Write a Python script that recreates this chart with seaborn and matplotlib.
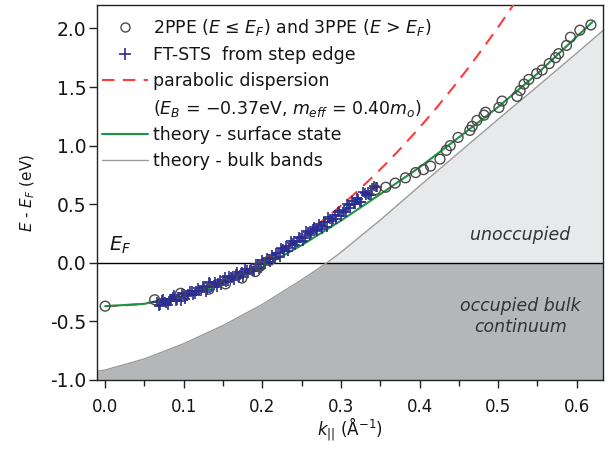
import numpy as np
import pandas as pd
import matplotlib
matplotlib.use("Agg")
import matplotlib.pyplot as plt
from matplotlib.lines import Line2D
import seaborn as sns

# ---------------- data ----------------
# 2PPE / 3PPE circles
ppe_k = [0.0, 0.063, 0.096, 0.132, 0.153, 0.174, 0.191, 0.197, 0.209,
         0.344, 0.357, 0.369, 0.382, 0.395, 0.405, 0.414, 0.426, 0.434, 0.439,
         0.449, 0.464, 0.467, 0.473, 0.482, 0.484, 0.501, 0.505, 0.524, 0.528,
         0.533, 0.539, 0.549, 0.556, 0.565, 0.573, 0.577, 0.587, 0.592, 0.604, 0.618]
ppe_E = [-0.37, -0.315, -0.26, -0.225, -0.18, -0.13, -0.075, -0.03, 0.02,
         0.625, 0.645, 0.68, 0.725, 0.77, 0.795, 0.825, 0.885, 0.96, 1.0,
         1.07, 1.13, 1.165, 1.215, 1.26, 1.285, 1.325, 1.38, 1.42, 1.47,
         1.525, 1.565, 1.615, 1.645, 1.70, 1.75, 1.785, 1.855, 1.925, 1.985, 2.03]

# FT-STS crosses
sts_k = [0.066, 0.070, 0.074, 0.078, 0.082, 0.086, 0.090, 0.094, 0.098, 0.102,
         0.106, 0.110, 0.114, 0.118, 0.122, 0.126, 0.130, 0.134, 0.138, 0.142,
         0.146, 0.150, 0.154, 0.158, 0.162, 0.166, 0.170, 0.174, 0.178, 0.182,
         0.186, 0.190, 0.194, 0.198, 0.202, 0.206, 0.210, 0.214, 0.218, 0.222,
         0.226, 0.230, 0.234, 0.238, 0.242, 0.246, 0.250, 0.254, 0.258, 0.262,
         0.266, 0.270, 0.274, 0.278, 0.282, 0.286, 0.290, 0.294, 0.298, 0.302,
         0.306, 0.310, 0.314, 0.318, 0.322, 0.326, 0.330, 0.334, 0.338, 0.342, 0.346,
         0.068, 0.072, 0.076, 0.080, 0.084, 0.088, 0.092, 0.096, 0.100, 0.104,
         0.108, 0.112, 0.116, 0.120, 0.124, 0.128, 0.132, 0.136, 0.140, 0.144,
         0.148, 0.152, 0.156, 0.160, 0.164, 0.168, 0.172, 0.176, 0.180, 0.184,
         0.188, 0.192, 0.196, 0.200, 0.204, 0.208, 0.212, 0.216, 0.220, 0.224,
         0.228, 0.232, 0.236, 0.240, 0.244, 0.248, 0.252, 0.256, 0.260, 0.264,
         0.268, 0.272, 0.276, 0.280, 0.284, 0.288, 0.292, 0.296, 0.300, 0.304,
         0.308, 0.312, 0.316, 0.320, 0.324, 0.328, 0.332, 0.336, 0.340, 0.344]
sts_E = [-0.335, -0.362, -0.310, -0.342, -0.324, -0.292, -0.329, -0.291, -0.259, -0.310,
         -0.269, -0.243, -0.268, -0.212, -0.241, -0.206, -0.230, -0.175, -0.190, -0.210,
         -0.150, -0.150, -0.164, -0.109, -0.133, -0.097, -0.132, -0.081, -0.050, -0.084,
         -0.057, -0.070, -0.013, -0.041, -0.001, 0.037, 0.005, 0.043, 0.081, 0.050,
         0.115, 0.145, 0.130, 0.165, 0.153, 0.224, 0.220, 0.211, 0.262, 0.253,
         0.309, 0.270, 0.316, 0.347, 0.309, 0.372, 0.375, 0.378, 0.441, 0.435,
         0.430, 0.490, 0.530, 0.500, 0.544, 0.521, 0.593, 0.590, 0.582, 0.659, 0.651,
         -0.371, -0.319, -0.331, -0.358, -0.306, -0.278, -0.315, -0.323, -0.270, -0.280,
         -0.239, -0.278, -0.238, -0.242, -0.201, -0.246, -0.165, -0.210, -0.165, -0.170,
         -0.190, -0.125, -0.154, -0.119, -0.143, -0.077, -0.102, -0.121, -0.060, -0.058,
         -0.071, -0.014, -0.057, 0.027, -0.007, 0.031, 0.064, 0.032, 0.081, 0.130,
         0.100, 0.105, 0.185, 0.189, 0.181, 0.212, 0.188, 0.274, 0.235, 0.291,
         0.282, 0.328, 0.289, 0.346, 0.393, 0.356, 0.404, 0.437, 0.401, 0.450,
         0.500, 0.465, 0.505, 0.550, 0.518, 0.605, 0.582, 0.579, 0.641, 0.643]

# parabolic dispersion (E_B = -0.37 eV, m_eff = 0.40 m_o)
para_k = [0.00, 0.02, 0.04, 0.06, 0.08, 0.10, 0.12, 0.14, 0.16, 0.18, 0.20, 0.22, 0.24, 0.26,
          0.28, 0.30, 0.32, 0.34, 0.36, 0.38, 0.40, 0.42, 0.44, 0.46, 0.48, 0.50, 0.52, 0.54]
para_E = [-0.370, -0.366, -0.355, -0.336, -0.309, -0.275, -0.233, -0.183, -0.126, -0.061,
          0.011, 0.091, 0.179, 0.274, 0.377, 0.487, 0.605, 0.731, 0.864, 1.005, 1.154,
          1.310, 1.474, 1.645, 1.825, 2.011, 2.206, 2.408]

# theory - surface state
ss_k = [0.00, 0.05, 0.10, 0.15, 0.20, 0.25, 0.30, 0.35, 0.40, 0.45, 0.50, 0.55, 0.60, 0.62]
ss_E = [-0.37, -0.35, -0.28, -0.18, -0.035, 0.15, 0.36, 0.585, 0.815, 1.07, 1.33, 1.615, 1.93, 2.055]

# theory - bulk bands (lower edge)
bulk_k = [-0.01, 0.00, 0.05, 0.10, 0.15, 0.20, 0.25, 0.282, 0.30, 0.35, 0.40, 0.45, 0.50, 0.55, 0.60, 0.64]
bulk_E = [-0.925, -0.915, -0.82, -0.69, -0.535, -0.355, -0.145, 0.0, 0.09, 0.365, 0.655, 0.94,
          1.225, 1.505, 1.79, 2.02]

x_ticks = [0.0, 0.1, 0.2, 0.3, 0.4, 0.5, 0.6]
y_ticks = [-1.0, -0.5, 0.0, 0.5, 1.0, 1.5, 2.0]

# ---------------- style ----------------
sns.set_theme(style="ticks")
plt.rcParams["font.family"] = ["DejaVu Sans"]
plt.rcParams["mathtext.fontset"] = "dejavusans"
plt.rcParams["text.color"] = "#151515"
plt.rcParams["axes.labelcolor"] = "#151515"

C_CIRC = "#4a4a4a"
C_STS = "#2b2d90"
C_PARA = "#ff3b3b"
C_SS = "#1c9442"
C_BULK = "#9a9a9a"
C_OCC = "#b5b6b8"
C_UNOCC = "#e8e9ea"

fig = plt.figure(figsize=(6.1, 4.54), dpi=100)
ax = fig.add_axes([0.1595, 0.163, 0.8285, 0.826])

# shaded regions
bk = np.array(bulk_k)
bE = np.array(bulk_E)
ax.fill_between(bk, -1.0, np.minimum(bE, 0.0), color=C_OCC, lw=0, zorder=0)
ax.fill_between(bk, 0.0, bE, where=bE >= 0.0, color=C_UNOCC, lw=0, zorder=0)
ax.axhline(0.0, color="black", lw=1.0, zorder=1)

df_bulk = pd.DataFrame({"k": bulk_k, "E": bulk_E})
sns.lineplot(data=df_bulk, x="k", y="E", sort=False, estimator=None, color=C_BULK, lw=1.0, ax=ax, zorder=2)

df_para = pd.DataFrame({"k": para_k, "E": para_E})
sns.lineplot(data=df_para, x="k", y="E", sort=False, estimator=None, color=C_PARA, lw=1.5,
             ax=ax, zorder=3)
ax.lines[-1].set_dashes((6, 4))

df_ss = pd.DataFrame({"k": ss_k, "E": ss_E})
sns.lineplot(data=df_ss, x="k", y="E", sort=False, estimator=None, color=C_SS, lw=1.5, ax=ax, zorder=4)

df_sts = pd.DataFrame({"k": sts_k, "E": sts_E})
sns.scatterplot(data=df_sts, x="k", y="E", marker="+", s=60, color=C_STS,
                linewidth=1.2, ax=ax, zorder=5)

df_ppe = pd.DataFrame({"k": ppe_k, "E": ppe_E})
sns.scatterplot(data=df_ppe, x="k", y="E", marker="o", s=50, facecolor="none",
                edgecolor=C_CIRC, linewidth=1.0, ax=ax, zorder=6)

# axes
ax.set_xlim(-0.01, 0.633)
ax.set_ylim(-1.0, 2.2)
ax.set_xticks(x_ticks)
ax.set_xticklabels([f"{v:.1f}" for v in x_ticks])
ax.set_xticks([0.05, 0.15, 0.25, 0.35, 0.45, 0.55], minor=True)
ax.set_yticks(y_ticks)
ax.set_yticklabels([f"{v:.1f}" for v in y_ticks])
ax.tick_params(axis="both", which="major", length=6, width=1.0, direction="out",
               color="#222222", labelcolor="#151515")
ax.tick_params(axis="x", which="major", pad=7, labelsize=12)
ax.tick_params(axis="y", which="major", pad=2, labelsize=13.5)
ax.tick_params(axis="x", which="minor", length=4, width=1.0, color="#222222")
for s in ax.spines.values():
    s.set_visible(True)
    s.set_linewidth(1.0)
    s.set_color("#222222")

ax.set_xlabel(r"$k_{||}$ (Å$^{-1}$)", fontsize=12, labelpad=0)
ax.set_ylabel(r"$E$ - $E_F$ (eV)", fontsize=11, labelpad=9)

# annotations
ax.text(0.005, 0.06, r"$E_F$", fontsize=14, ha="left", va="bottom")
ax.text(0.528, 0.24, "unoccupied", fontsize=12.5, style="italic", ha="center", va="center", color="#333333")
ax.text(0.528, -0.46, "occupied bulk\ncontinuum", fontsize=12.5, style="italic", ha="center",
        va="center", color="#333333", linespacing=1.25)

# legend
handles = [
    Line2D([], [], ls="none", marker="o", ms=6.5, mfc="none", mec=C_CIRC, mew=1.0),
    Line2D([], [], ls="none", marker="+", ms=8, color=C_STS, mew=1.2),
    Line2D([], [], color=C_PARA, lw=1.5, dashes=(6, 4)),
    Line2D([], [], ls="none"),
    Line2D([], [], color=C_SS, lw=1.5),
    Line2D([], [], color=C_BULK, lw=1.0),
]
labels = [
    r"2PPE ($E$ ≤ $E_F$) and 3PPE ($E$ > $E_F$)",
    "FT-STS  from step edge",
    "parabolic dispersion",
    r"($E_B$ = −0.37eV, $m_{eff}$ = 0.40$m_o$)",
    "theory - surface state",
    "theory - bulk bands",
]
leg = ax.legend(handles, labels, loc="upper left", bbox_to_anchor=(-0.014, 1.0), frameon=False,
                fontsize=12.5, handlelength=2.6, handletextpad=0.3, labelspacing=0.45,
                borderpad=0.5, borderaxespad=0.2)
for t in leg.get_texts():
    t.set_color("#151515")

fig.savefig("out.png", dpi=100)
